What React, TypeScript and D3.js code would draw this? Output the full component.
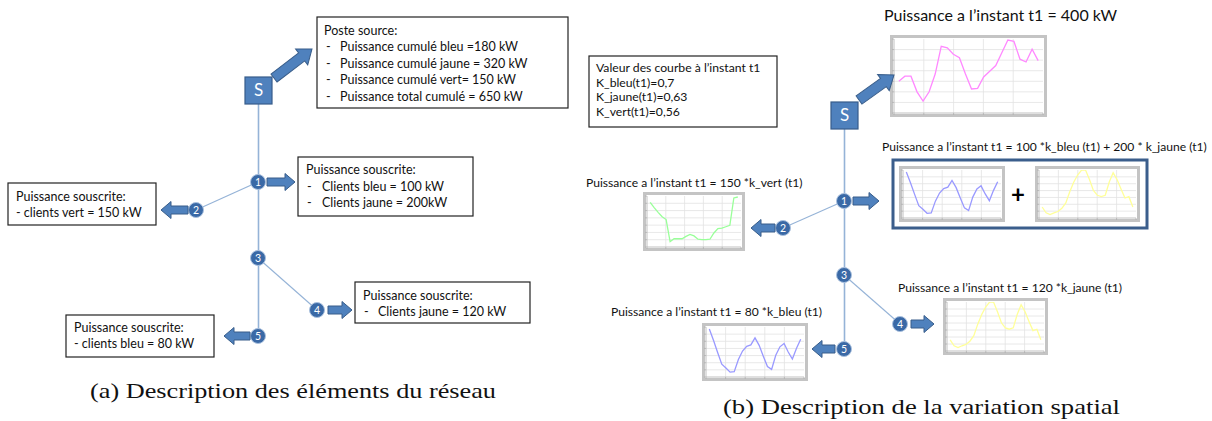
import React from "react";
import * as d3 from "d3";

// texts of the network description (a)
const posteSourceTitle = "Poste source:";
const posteSourceLines = [
  "Puissance cumulé bleu =180 kW",
  "Puissance cumulé jaune = 320 kW",
  "Puissance cumulé vert= 150 kW",
  "Puissance total cumulé = 650 kW",
];
const noeud1Lines = ["Clients bleu = 100 kW", "Clients jaune = 200kW"];
const noeud2Line = "- clients vert = 150 kW";
const noeud4Lines = ["Clients jaune = 120 kW"];
const noeud5Line = "- clients bleu = 80 kW";
const souscrite = "Puissance souscrite:";

// texts of the spatial variation (b)
const valeurLines = [
  "Valeur des courbe à l’instant t1",
  "K_bleu(t1)=0,7",
  "K_jaune(t1)=0,63",
  "K_vert(t1)=0,56",
];
const titreSource = "Puissance a l’instant t1 = 400 kW";
const titreNoeud1 = "Puissance a l’instant t1 = 100 *k_bleu (t1) + 200 * k_jaune (t1)";
const titreNoeud2 = "Puissance a l’instant t1 = 150 *k_vert (t1)";
const titreNoeud4 = "Puissance a l’instant t1 = 120 *k_jaune (t1)";
const titreNoeud5 = "Puissance a l’instant t1 = 80 *k_bleu (t1)";

const captionA = "(a) Description des éléments du réseau";
const captionB = "(b) Description de la variation spatial";

// normalised load curves (0 = bottom of plot, 1 = top)
const courbeTotale = [0.42, 0.49, 0.49, 0.27, 0.14, 0.27, 0.52, 0.91, 0.89, 0.8, 0.75, 0.52,
  0.31, 0.32, 0.48, 0.56, 0.64, 0.82, 1.0, 0.98, 0.73, 0.69, 0.87, 0.71];
const courbeBleu = [0.98, 0.74, 0.48, 0.23, 0.15, 0.06, 0.07, 0.33, 0.51, 0.61, 0.64, 0.79,
  0.63, 0.4, 0.18, 0.12, 0.42, 0.6, 0.67, 0.49, 0.34, 0.57, 0.76];
const courbeJaune = [0.2, 0.07, 0.03, 0.07, 0.1, 0.17, 0.29, 0.54, 0.75, 0.91, 1.02, 1.02,
  0.81, 0.57, 0.46, 0.43, 0.46, 0.75, 0.96, 0.81, 0.6, 0.4, 0.43, 0.2];
const courbeVert = [0.89, 0.78, 0.68, 0.59, 0.53, 0.07, 0.13, 0.13, 0.13, 0.18, 0.22, 0.19,
  0.12, 0.11, 0.11, 0.12, 0.25, 0.34, 0.35, 0.38, 0.41, 0.98, 1.0];

const FONT = "Lato, 'Open Sans', sans-serif";
const SERIF = "'Liberation Serif', 'DejaVu Serif', serif";
const LINE_BLUE = "#95B3D7";
const FILL_BLUE = "#4F81BD";
const EDGE_BLUE = "#385D8A";

function MiniChart({ x, y, w, h, values, color, id }: {
  x: number; y: number; w: number; h: number; values: number[]; color: string; id: string;
}) {
  const inset = 4;
  const px0 = x + inset, px1 = x + w - inset, py0 = y + inset, py1 = y + h - inset;
  const xs = d3.scalePoint<number>().domain(d3.range(values.length)).range([px0, px1]).padding(0.8);
  const ys = d3.scaleLinear().domain([0, 1]).range([py1 - 2, py0 + 1]);
  const gx = d3.scaleLinear().domain([0, 5]).range([px0, px1]);
  const gy = d3.scaleLinear().domain([0, 7]).range([py1, py0]);
  const line = d3.line<number>().x((_, i) => xs(i) as number).y((d) => ys(d));
  return (
    <g>
      <defs>
        <clipPath id={id}>
          <rect x={px0} y={py0} width={px1 - px0} height={py1 - py0} />
        </clipPath>
      </defs>
      <rect x={x + 1.5} y={y + 1.5} width={w - 3} height={h - 3} fill="#fff" stroke="#C4C4C4" strokeWidth={3} />
      {d3.range(1, 5).map((i) => (
        <line key={"v" + i} x1={gx(i)} x2={gx(i)} y1={py0} y2={py1} stroke="#E2E2E2" strokeWidth={0.8} />
      ))}
      {d3.range(1, 7).map((i) => (
        <line key={"h" + i} x1={px0} x2={px1} y1={gy(i)} y2={gy(i)} stroke="#E2E2E2" strokeWidth={0.8} />
      ))}
      <line x1={px0} x2={px0} y1={py0} y2={py1} stroke="#B0B0B0" strokeWidth={0.8} />
      <line x1={px0} x2={px1} y1={py1} y2={py1} stroke="#B0B0B0" strokeWidth={0.8} />
      {d3.range(0, 8).map((i) => (
        <line key={"ty" + i} x1={px0 - 2} x2={px0} y1={gy(i)} y2={gy(i)} stroke="#B0B0B0" strokeWidth={0.8} />
      ))}
      {d3.range(0, 6).map((i) => (
        <line key={"tx" + i} x1={gx(i)} x2={gx(i)} y1={py1} y2={py1 + 2} stroke="#B0B0B0" strokeWidth={0.8} />
      ))}
      <path d={line(values) || ""} fill="none" stroke={color} strokeWidth={1.3} clipPath={`url(#${id})`} />
    </g>
  );
}

// block arrow from (x1,y1) to (x2,y2)
function BlockArrow({ x1, y1, x2, y2, shaft = 8, head = 17, headLen = 10 }: {
  x1: number; y1: number; x2: number; y2: number; shaft?: number; head?: number; headLen?: number;
}) {
  const len = Math.hypot(x2 - x1, y2 - y1);
  const ang = (Math.atan2(y2 - y1, x2 - x1) * 180) / Math.PI;
  const s = shaft / 2, hh = head / 2, b = len - headLen;
  const pts = [[0, -s], [b, -s], [b, -hh], [len, 0], [b, hh], [b, s], [0, s]];
  return (
    <polygon
      transform={`translate(${x1},${y1}) rotate(${ang})`}
      points={pts.map((p) => p.join(",")).join(" ")}
      fill={FILL_BLUE}
      stroke={EDGE_BLUE}
      strokeWidth={1}
    />
  );
}

function Node({ x, y, n }: { x: number; y: number; n: number }) {
  return (
    <g>
      <circle cx={x} cy={y} r={7.5} fill="#3A69A6" stroke="#A9C0DE" strokeWidth={1} />
      <text x={x} y={y + 3.6} textAnchor="middle" fontSize={10.5} fill="#fff" fontFamily={FONT}>{n}</text>
    </g>
  );
}

function SourceBox({ x, y }: { x: number; y: number }) {
  return (
    <g>
      <rect x={x} y={y} width={27} height={27} fill={FILL_BLUE} stroke={EDGE_BLUE} strokeWidth={1.2} />
      <text x={x + 13.5} y={y + 19} textAnchor="middle" fontSize={17} fill="#fff" fontFamily={FONT}>S</text>
    </g>
  );
}

function Box({ x, y, w, h, sw = 1.2, stroke = "#222" }: { x: number; y: number; w: number; h: number; sw?: number; stroke?: string }) {
  return <rect x={x} y={y} width={w} height={h} fill="#fff" stroke={stroke} strokeWidth={sw} />;
}

const T = ({ x, y, s = 12.5, children, anchor = "start" }: any) => (
  <text x={x} y={y} fontSize={s} fontFamily={FONT} fill="#111" textAnchor={anchor}>{children}</text>
);

export default function App() {
  return (
    <svg width={1212} height={421} style={{ position: "absolute", left: 0, top: 0, background: "#fff" }}>
      {/* ---------- (a) ---------- */}
      <line x1={258.5} x2={258.5} y1={104} y2={336} stroke={LINE_BLUE} strokeWidth={1.6} />
      <line x1={258} y1={182} x2={196} y2={210} stroke={LINE_BLUE} strokeWidth={1.1} />
      <line x1={258} y1={258} x2={317} y2={310} stroke={LINE_BLUE} strokeWidth={1.1} />
      <SourceBox x={245} y={77} />
      <BlockArrow x1={274} y1={78} x2={312} y2={49} shaft={10} head={20} headLen={13} />
      <Box x={317} y={17} w={251} h={91} />
      <T x={324} y={35}>{posteSourceTitle}</T>
      {posteSourceLines.map((t, i) => (
        <g key={t}>
          <T x={326} y={51 + i * 16.5}>-</T>
          <T x={340} y={51 + i * 16.5}>{t}</T>
        </g>
      ))}

      <Node x={258} y={182} n={1} />
      <BlockArrow x1={267} y1={182} x2={295} y2={182} />
      <Box x={298} y={157} w={175} h={59} />
      <T x={306} y={174}>{souscrite}</T>
      {noeud1Lines.map((t, i) => (
        <g key={t}>
          <T x={307} y={191 + i * 16}>-</T>
          <T x={322} y={191 + i * 16}>{t}</T>
        </g>
      ))}

      <Node x={196} y={210} n={2} />
      <BlockArrow x1={188} y1={210} x2={161} y2={210} />
      <Box x={8} y={183} w={148} h={42} />
      <T x={16} y={201}>{souscrite}</T>
      <T x={16} y={217}>{noeud2Line}</T>

      <Node x={258} y={258} n={3} />
      <Node x={317} y={310} n={4} />
      <BlockArrow x1={328} y1={310} x2={352} y2={310} />
      <Box x={355} y={282} w={175} h={41} />
      <T x={363} y={300}>{souscrite}</T>
      {noeud4Lines.map((t, i) => (
        <g key={t}>
          <T x={364} y={316 + i * 16}>-</T>
          <T x={378} y={316 + i * 16}>{t}</T>
        </g>
      ))}

      <Node x={258} y={336} n={5} />
      <BlockArrow x1={250} y1={336} x2={224} y2={336} />
      <Box x={66} y={315} w={148} h={42} />
      <T x={74} y={332}>{souscrite}</T>
      <T x={74} y={348}>{noeud5Line}</T>

      <text x={90} y={398} fontSize={22} fontFamily={SERIF} fill="#111" textLength={406} lengthAdjust="spacingAndGlyphs">{captionA}</text>

      {/* ---------- (b) ---------- */}
      <Box x={589} y={56} w={188} h={71} />
      {valeurLines.map((t, i) => (
        <T key={t} x={596} y={72 + i * 14.5} s={12.2}>{t}</T>
      ))}

      <line x1={844.5} x2={844.5} y1={128} y2={349} stroke={LINE_BLUE} strokeWidth={1.6} />
      <line x1={844} y1={201} x2={783} y2={228} stroke={LINE_BLUE} strokeWidth={1.1} />
      <line x1={844} y1={275} x2={900} y2={324} stroke={LINE_BLUE} strokeWidth={1.1} />

      <T x={884} y={21} s={16}>{titreSource}</T>
      <MiniChart x={890} y={35} w={157} h={82} values={courbeTotale} color="#FF88FF" id="c-tot" />
      <SourceBox x={831} y={102} />
      <BlockArrow x1={859} y1={100} x2={894} y2={75} shaft={10} head={20} headLen={13} />

      <Node x={844} y={201} n={1} />
      <BlockArrow x1={853} y1={201} x2={879} y2={201} />
      <T x={882} y={151} s={12.1}>{titreNoeud1}</T>
      <Box x={893} y={160} w={254} h={68} sw={3} stroke="#3B5E8C" />
      <MiniChart x={899} y={166} w={106} h={56} values={courbeBleu} color="#9999FF" id="c-b1" />
      <text x={1018} y={203} textAnchor="middle" fontSize={24} fontWeight="bold" fontFamily={FONT} fill="#000">+</text>
      <MiniChart x={1035} y={166} w={105} h={56} values={courbeJaune} color="#FFFF99" id="c-j1" />

      <Node x={783} y={228} n={2} />
      <BlockArrow x1={775} y1={228} x2={751} y2={228} />
      <T x={586} y={187} s={12.1}>{titreNoeud2}</T>
      <MiniChart x={643} y={192} w={102} h={59} values={courbeVert} color="#99FF99" id="c-v" />

      <Node x={844} y={275} n={3} />
      <Node x={900} y={324} n={4} />
      <BlockArrow x1={911} y1={324} x2={934} y2={324} />
      <T x={898} y={292} s={12.1}>{titreNoeud4}</T>
      <MiniChart x={943} y={298} w={105} h={57} values={courbeJaune} color="#FFFF99" id="c-j2" />

      <Node x={844} y={349} n={5} />
      <BlockArrow x1={835} y1={349} x2={812} y2={349} />
      <T x={611} y={316} s={12.1}>{titreNoeud5}</T>
      <MiniChart x={702} y={323} w={106} h={58} values={courbeBleu} color="#9999FF" id="c-b2" />

      <text x={723} y={414} fontSize={22} fontFamily={SERIF} fill="#111" textLength={397} lengthAdjust="spacingAndGlyphs">{captionB}</text>
    </svg>
  );
}
